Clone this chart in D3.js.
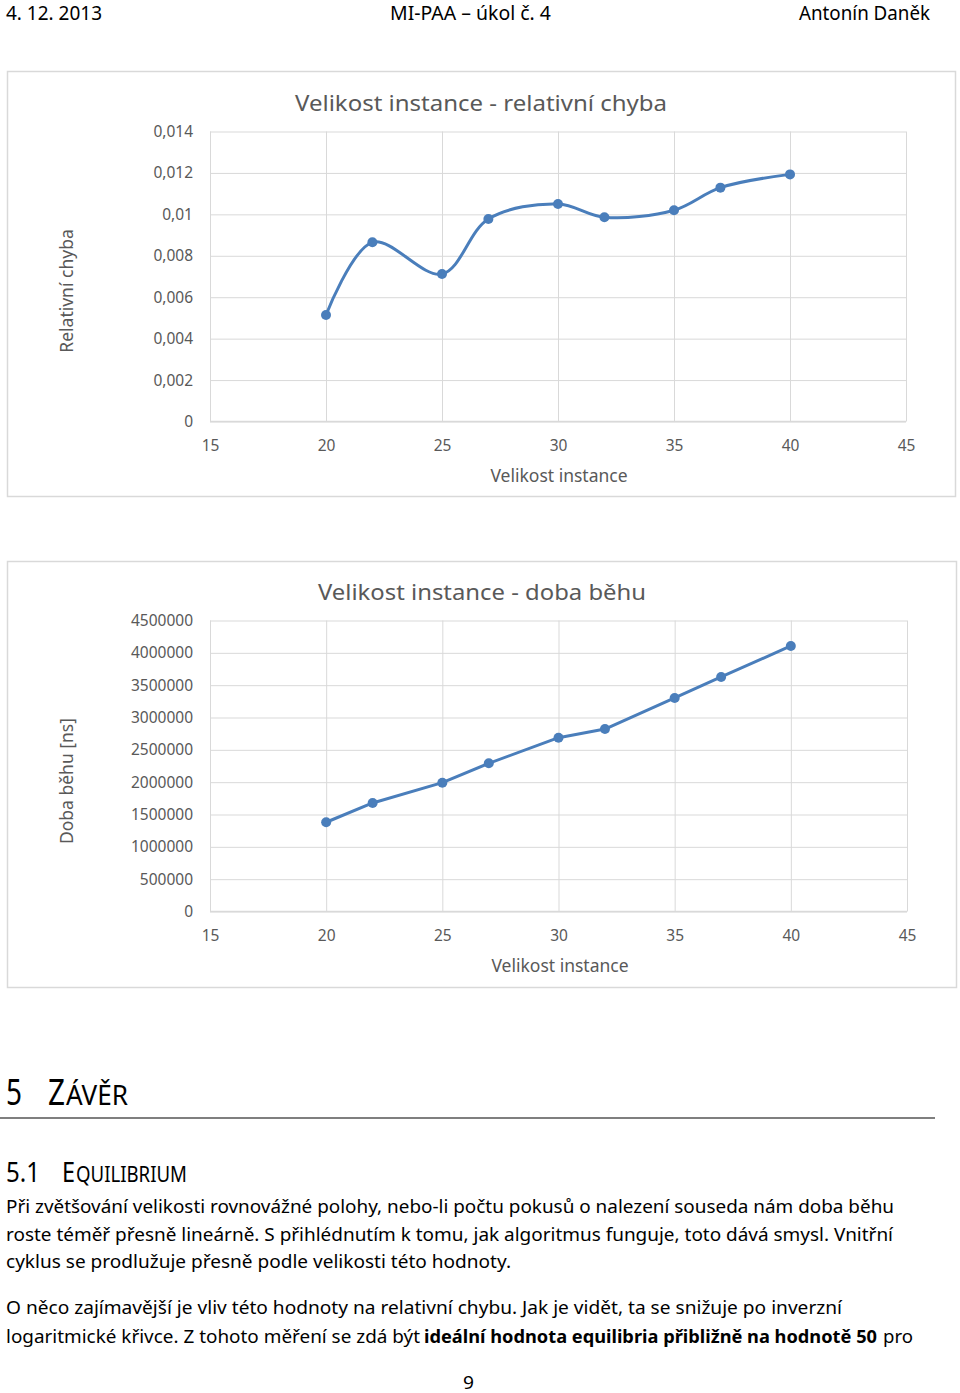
<!DOCTYPE html>
<html>
<head>
<meta charset="utf-8">
<script src="https://cdn.jsdelivr.net/npm/d3@7"></script>
<style>
  body { margin: 0; background: #fff; }
  svg { display: block; font-family: "Noto Sans", sans-serif; }
</style>
</head>
<body>
<svg id="page" width="960" height="1393"></svg>
<script>
// data
const instanceSizes = [20, 22, 25, 27, 30, 32, 35, 37, 40];
const relativeError = [0.00514, 0.00865, 0.00712, 0.00978, 0.0105, 0.00986, 0.0102, 0.01129, 0.01193];
const runTimeNs = [1380000, 1678000, 1992000, 2292000, 2688000, 2822000, 3302000, 3627000, 4106000];
const xTicks = [15, 20, 25, 30, 35, 40, 45];
const errorTicks = [0, 0.002, 0.004, 0.006, 0.008, 0.01, 0.012, 0.014];
const timeTicks = [0, 500000, 1000000, 1500000, 2000000, 2500000, 3000000, 3500000, 4000000, 4500000];

const svg = d3.select("#page");
svg.append("rect").attr("width", 960).attr("height", 1393).attr("fill", "#fff");

const czech = d3.formatLocale({ decimal: ",", thousands: "", grouping: [3], currency: ["", ""] });
const gray = "#595959";
const grid = "#d9d9d9";
const blue = "#4a7ebb";

// page header
function fitText(x, y, str, size, len, anchor, weight) {
  return svg.append("text")
    .attr("x", x).attr("y", y)
    .attr("font-size", size)
    .attr("font-weight", weight || "normal")
    .attr("text-anchor", anchor || "start")
    .attr("textLength", len)
    .attr("lengthAdjust", "spacingAndGlyphs")
    .attr("fill", "#000")
    .text(str);
}
fitText(6, 20, "4. 12. 2013", 19, 96);
fitText(390, 20, "MI-PAA – úkol č. 4", 19, 161);
fitText(799, 20, "Antonín Daněk", 19, 131);

function drawChart(opt) {
  const g = svg.append("g");
  g.append("rect")
    .attr("x", opt.box[0] + 0.5).attr("y", opt.box[1] + 0.5)
    .attr("width", opt.box[2]).attr("height", opt.box[3])
    .attr("fill", "#fff").attr("stroke", grid).attr("stroke-width", 1.5);

  const x = d3.scaleLinear().domain([15, 45]).range([opt.left, opt.right]);
  const y = d3.scaleLinear().domain([0, d3.max(opt.yTicks)]).range([opt.bottom, opt.top]);

  // gridlines
  const yAxis = d3.axisLeft(y).tickValues(opt.yTicks)
    .tickSize(-(opt.right - opt.left)).tickPadding(17)
    .tickFormat(opt.format);
  const ya = g.append("g").attr("transform", `translate(${opt.left},0)`).call(yAxis);
  ya.select(".domain").remove();
  ya.selectAll("line").attr("stroke", grid);
  ya.selectAll("text").attr("fill", gray).attr("font-size", 15.5).attr("font-family", "Noto Sans");

  const xAxis = d3.axisBottom(x).tickValues(xTicks)
    .tickSize(-(opt.bottom - opt.top)).tickPadding(18)
    .tickFormat(d3.format("d"));
  const xa = g.append("g").attr("transform", `translate(0,${opt.bottom})`).call(xAxis);
  xa.select(".domain").remove();
  xa.selectAll("line").attr("stroke", grid);
  xa.selectAll("text").attr("fill", gray).attr("font-size", 15.5).attr("font-family", "Noto Sans");

  g.append("line")
    .attr("x1", opt.left).attr("x2", opt.right)
    .attr("y1", opt.bottom).attr("y2", opt.bottom)
    .attr("stroke", grid).attr("stroke-width", 1.3);

  // titles
  g.append("text")
    .attr("x", opt.titleX).attr("y", opt.top - 21)
    .attr("text-anchor", "middle").attr("font-size", 22).attr("fill", gray)
    .attr("textLength", opt.titleLen).attr("lengthAdjust", "spacingAndGlyphs")
    .text(opt.title);
  g.append("text")
    .attr("x", opt.axisTitleX).attr("y", opt.bottom + 60)
    .attr("text-anchor", "middle").attr("font-size", 17.5).attr("fill", gray)
    .text("Velikost instance");
  g.append("text")
    .attr("transform", `translate(73,${opt.yTitleY}) rotate(-90)`)
    .attr("text-anchor", "middle").attr("font-size", 17.5).attr("fill", gray)
    .text(opt.yTitle);

  // series
  const pts = instanceSizes.map((d, i) => [d, opt.values[i]]);
  const line = d3.line()
    .x(d => x(d[0])).y(d => y(d[1]))
    .curve(opt.curve);
  g.append("path")
    .datum(pts)
    .attr("d", line)
    .attr("fill", "none").attr("stroke", blue)
    .attr("stroke-width", 3).attr("stroke-linejoin", "round");
  g.selectAll("circle.pt")
    .data(pts)
    .join("circle")
    .attr("class", "pt")
    .attr("cx", d => x(d[0])).attr("cy", d => y(d[1]))
    .attr("r", 5).attr("fill", blue);
}

drawChart({
  box: [7, 71, 948, 425],
  left: 210, right: 906, top: 131.5, bottom: 421.5,
  yTicks: errorTicks, values: relativeError,
  format: czech.format("~f"),
  title: "Velikost instance - relativní chyba", titleX: 481, titleLen: 372,
  yTitle: "Relativní chyba", yTitleY: 291, axisTitleX: 559,
  curve: d3.curveCatmullRom.alpha(0.5)
});

drawChart({
  box: [7, 561, 949, 426],
  left: 210, right: 907, top: 620.5, bottom: 911.5,
  yTicks: timeTicks, values: runTimeNs,
  format: czech.format("d"),
  title: "Velikost instance - doba běhu", titleX: 482, titleLen: 328,
  yTitle: "Doba běhu [ns]", yTitleY: 781, axisTitleX: 560,
  curve: d3.curveLinear
});

// text of the page below the charts
fitText(6, 1105, "5", 36, 16);
fitText(48, 1105, "Z", 36, 17);
fitText(66, 1105, "ÁVĚR", 28, 62);
svg.append("line")
  .attr("x1", 0).attr("x2", 935).attr("y1", 1118).attr("y2", 1118)
  .attr("stroke", "#7f7f7f").attr("stroke-width", 2);

fitText(6, 1182, "5.1", 28, 34);
fitText(62, 1182, "E", 28, 13);
fitText(76, 1182, "QUILIBRIUM", 22, 111);

const bodyLines = [
  { y: 1213, parts: [["Při zvětšování velikosti rovnovážné polohy, nebo-li počtu pokusů o nalezení souseda nám doba běhu", 6, 888, "normal"]] },
  { y: 1241, parts: [["roste téměř přesně lineárně. S přihlédnutím k tomu, jak algoritmus funguje, toto dává smysl. Vnitřní", 6, 887, "normal"]] },
  { y: 1268, parts: [["cyklus se prodlužuje přesně podle velikosti této hodnoty.", 6, 505, "normal"]] },
  { y: 1314, parts: [["O něco zajímavější je vliv této hodnoty na relativní chybu. Jak je vidět, ta se snižuje po inverzní", 6, 836, "normal"]] },
  { y: 1343, parts: [
    ["logaritmické křivce. Z tohoto měření se zdá být", 6, 414, "normal"],
    ["ideální hodnota equilibria přibližně na hodnotě 50", 424, 453, "bold"],
    ["pro", 883, 30, "normal"]
  ] }
];
bodyLines.forEach(l => l.parts.forEach(p => fitText(p[1], l.y, p[0], 18, p[2], "start", p[3])));

fitText(463, 1389, "9", 18, 11);
</script>
</body>
</html>
